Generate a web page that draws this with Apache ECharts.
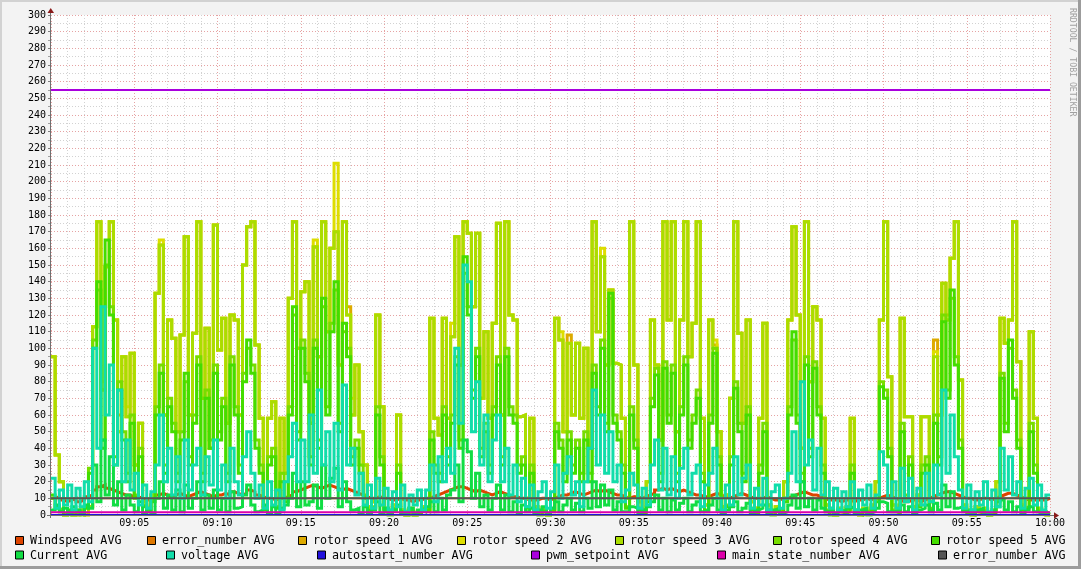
<!DOCTYPE html>
<html><head><meta charset="utf-8">
<script src="https://cdn.jsdelivr.net/npm/echarts@6/dist/echarts.min.js"></script>
<style>html,body{margin:0;padding:0;background:#f3f3f3}#c{width:1081px;height:569px}</style>
</head><body><div id="c"></div>
<script>
// ---- data (15 s samples from 09:00 to 10:00) ----
const tickLabels = ['09:05','09:10','09:15','09:20','09:25','09:30','09:35','09:40','09:45','09:50','09:55','10:00'];
const sampleMinutes = 0.25;
const spanMinutes = 60;

const windspeed = [
10,11,9,8,9,10,8,9,11,12, 15,17,18,16,15,14,13,12,12,11, 11,10,9,9,10,12,13,12,11,12,
13,12,11,12,13,14,13,12,11,12, 12,13,12,14,13,12,13,15,14,12, 11,10,10,9,10,10,11,12,14,15,
16,17,18,17,16,17,18,17,16,15, 16,15,14,13,12,11,10,10,11,10, 10,9,9,10,9,9,8,9,9,10,
10,11,12,13,14,15,16,17,17,16, 15,14,15,14,13,12,13,14,13,12, 11,11,10,10,9,9,9,10,10,9,
10,11,12,12,13,14,13,12,13,14, 15,14,15,14,13,12,12,11,10,11, 11,10,11,12,13,15,16,15,16,15,
14,15,14,13,12,12,11,11,12,13, 12,11,10,11,12,13,12,11,10,10, 10,11,10,9,9,10,10,11,12,13,
14,13,12,12,11,10,9,9,9,8, 9,9,8,9,9,10,9,10,10,11, 12,11,10,9,8,8,9,9,8,9,
10,11,12,13,14,14,13,12,11,10, 10,9,9,10,10,9,10,11,12,13, 13,12,11,10,9,9,9,9,9,10];

const errorNumberA = [10];

const rotorSpeed1 = [
95,36,20,0,2,0,0,3,0,5, 113,176,75,149,176,117,60,95,59,97, 30,55,8,3,12,133,162,60,117,106,
50,108,167,60,109,176,70,112,40,174, 99,118,55,120,117,60,150,173,176,102, 58,5,58,68,10,58,25,130,176,100,
134,140,55,161,95,176,110,160,170,90, 176,125,60,90,50,30,5,8,120,65, 4,2,6,60,3,0,4,0,2,5,
3,118,58,48,118,58,107,167,90,176, 169,125,169,70,110,58,115,175,60,176, 120,117,59,60,10,58,5,2,4,0,
3,118,105,50,108,60,103,58,100,40, 176,110,155,90,135,91,90,58,10,176, 90,8,3,20,117,90,45,176,117,176,
50,117,176,95,115,176,58,6,117,102, 50,5,12,70,176,109,55,117,8,4, 58,115,6,2,5,3,20,117,173,120,
40,176,80,125,117,58,6,3,0,4, 2,5,58,3,0,4,2,6,20,117, 176,83,6,3,118,59,59,5,12,59,
59,8,105,60,139,120,154,176,81,6, 3,0,5,2,4,0,3,20,118,103, 117,176,92,6,10,110,58,4,2,0];

const rotorSpeed2 = [
95,36,20,0,2,0,0,3,0,5, 113,176,80,149,176,117,50,95,65,97, 30,55,8,3,12,133,165,60,117,106,
50,108,167,60,109,176,70,112,40,174, 99,118,55,120,117,60,150,173,176,102, 58,5,58,68,10,58,25,130,176,100,
134,140,55,165,95,176,110,160,211,90, 176,120,70,90,50,30,5,8,120,65, 4,2,6,60,3,0,4,0,2,5,
3,118,58,48,118,58,115,167,90,176, 169,125,169,70,110,58,115,175,60,176, 120,117,59,60,10,58,5,2,4,0,
3,118,110,50,103,60,103,58,100,40, 176,110,160,90,135,91,90,58,10,176, 90,8,3,20,117,90,45,176,117,176,
50,117,176,95,115,176,58,6,117,105, 50,5,12,70,176,109,55,117,8,4, 58,115,6,2,5,3,20,117,173,120,
40,176,80,125,117,58,6,3,0,4, 2,5,58,3,0,4,2,6,20,117, 176,83,6,3,118,59,59,5,12,59,
59,8,98,60,139,117,154,176,81,6, 3,0,5,2,4,0,3,20,118,103, 117,176,92,6,10,110,58,4,2,0];

const rotorSpeed3 = [
95,36,20,0,2,0,0,3,0,5, 113,176,75,149,176,117,50,95,59,97, 30,55,8,3,12,133,162,60,117,106,
50,108,167,60,109,176,70,112,40,174, 99,118,55,120,117,60,150,173,176,102, 58,5,58,68,10,58,25,130,176,100,
134,140,55,161,95,176,110,160,170,90, 176,120,60,90,50,30,5,8,120,65, 4,2,6,60,3,0,4,0,2,5,
3,118,58,48,118,58,107,167,90,176, 169,125,169,70,110,58,115,175,60,176, 120,117,59,60,10,58,5,2,4,0,
3,118,105,50,103,60,103,58,100,40, 176,110,155,90,135,91,90,58,10,176, 90,8,3,20,117,90,45,176,117,176,
50,117,176,95,115,176,58,6,117,100, 50,5,12,70,176,109,55,117,8,4, 58,115,6,2,5,3,20,117,173,120,
40,176,80,125,117,58,6,3,0,4, 2,5,58,3,0,4,2,6,20,117, 176,83,6,3,118,59,59,5,12,59,
59,8,95,60,139,117,154,176,81,6, 3,0,5,2,4,0,3,20,118,103, 117,176,92,6,10,110,58,4,2,0];

const rotorSpeed4 = [
10,4,3,0,2,0,1,0,5,28, 105,135,45,150,125,35,80,50,25,60, 12,40,6,2,10,65,90,30,70,55,
25,50,80,35,60,95,25,75,45,90, 50,70,25,95,65,30,85,100,90,45, 30,4,35,40,5,25,10,65,120,50,
105,85,35,105,45,125,65,115,135,55, 110,100,35,45,30,12,3,5,65,35, 3,0,4,30,2,0,3,0,2,4,
3,50,30,25,65,35,60,95,45,145, 125,75,100,40,55,30,65,95,35,100, 65,60,30,35,5,30,3,0,3,0,
3,55,45,25,50,30,45,25,50,25, 90,65,105,55,130,60,50,30,5,65, 45,4,2,10,70,88,25,92,60,90,
25,65,95,45,60,75,25,3,60,100, 35,3,6,35,80,55,25,65,4,2, 30,55,3,0,3,2,10,65,105,60,
25,95,40,92,65,30,3,0,0,3, 2,3,30,2,0,3,0,4,10,80, 75,40,3,2,55,12,35,3,6,30,
35,4,60,35,120,75,130,95,45,4, 2,0,3,2,3,0,2,10,85,55, 100,75,45,4,5,55,30,3,2,0];

const rotorSpeed5 = [
12,5,2,0,3,0,2,0,4,25, 100,140,40,165,120,30,75,45,20,55, 10,35,5,2,8,60,85,25,65,50,
20,45,85,30,55,90,20,70,40,85, 45,65,20,90,60,25,80,105,85,40, 25,3,30,35,4,20,8,60,125,45,
100,80,30,100,40,130,60,110,140,50, 115,95,30,40,25,10,3,4,60,30, 2,0,3,25,2,0,2,0,1,3,
2,45,25,20,60,30,55,90,40,155, 120,70,95,35,50,25,60,90,30,95, 60,55,25,30,4,25,2,0,2,0,
2,50,40,20,45,25,40,20,45,20, 85,60,100,50,133,55,45,25,4,60, 40,3,1,8,65,84,20,88,55,85,
20,60,90,40,55,70,20,2,55,97, 30,2,5,30,76,50,20,60,3,1, 25,50,2,0,2,1,8,60,110,55,
20,90,35,88,60,25,2,0,0,2, 1,2,25,1,0,2,0,3,8,77, 70,35,2,1,50,10,30,2,5,25,
30,3,55,30,116,70,135,90,40,3, 1,0,2,1,2,0,1,8,82,50, 105,70,40,3,4,50,25,2,1,0];

const current = [
3,6,2,4,1,5,3,1,6,4, 30,8,45,12,35,6,20,3,12,6, 2,8,1,4,1,10,20,4,12,3,
15,2,18,4,10,20,3,12,4,15, 3,10,2,14,4,5,12,18,6,2, 3,6,1,5,1,4,6,10,25,5,
20,6,8,18,4,30,10,22,28,5, 20,8,3,4,1,5,1,3,8,1, 4,1,3,6,1,2,4,1,3,2,
5,8,2,10,3,12,15,30,8,45, 38,10,25,5,12,3,10,18,3,12, 2,8,1,6,2,4,1,3,5,1,
4,8,2,6,10,3,7,2,10,4, 20,5,18,6,15,3,8,2,2,5, 4,1,3,5,8,12,3,10,2,9,
3,7,10,2,6,8,2,3,6,10, 3,1,3,5,8,2,4,7,1,3, 4,6,1,3,4,1,2,6,12,4,
20,5,10,3,9,4,2,3,1,3, 2,4,5,1,3,4,1,2,4,8, 7,2,2,3,6,2,5,1,3,4,
6,2,7,3,18,5,14,4,5,2, 3,1,3,4,1,2,3,5,9,3, 8,2,5,1,3,5,2,1,2,1];

const voltage = [
22,4,15,6,18,3,16,5,20,8, 100,40,125,60,90,30,75,20,45,15, 25,6,18,4,14,30,60,20,40,12,
35,10,45,15,30,40,12,35,18,45, 15,30,10,40,20,12,35,50,25,10, 18,4,20,6,15,3,20,35,55,20,
45,20,60,25,75,30,50,20,55,15, 78,30,40,12,25,6,18,4,22,6, 16,3,14,5,18,2,12,6,15,3,
15,30,8,35,20,40,25,100,55,150, 140,50,80,30,60,20,45,60,20,40, 12,30,8,22,5,18,3,14,20,4,
14,30,10,25,35,12,20,5,20,40, 75,30,60,25,50,20,30,8,15,25, 18,4,16,6,30,45,15,40,12,35,
10,28,40,12,25,30,5,18,25,40, 10,3,18,6,35,12,22,30,4,16, 6,22,3,14,18,4,10,25,50,20,
80,30,45,15,40,12,20,4,16,3, 14,5,20,3,15,6,18,4,12,38, 30,10,20,4,28,8,22,3,16,6,
25,8,30,12,75,25,60,35,15,4, 18,3,14,6,20,2,15,5,40,15, 35,12,20,4,16,22,6,18,3,12];

const autostartNumber = [0];
const pwmSetpoint = [255];
const mainStateNumber = [1.7];
const errorNumberB = [10];

const seriesNames = ['Windspeed AVG','error_number AVG','rotor speed 1 AVG','rotor speed 2 AVG','rotor speed 3 AVG',
  'rotor speed 4 AVG','rotor speed 5 AVG','Current AVG','voltage AVG','autostart_number AVG','pwm_setpoint AVG',
  'main_state_number AVG','error_number AVG'];
const seriesValues = [windspeed, errorNumberA, rotorSpeed1, rotorSpeed2, rotorSpeed3, rotorSpeed4, rotorSpeed5,
  current, voltage, autostartNumber, pwmSetpoint, mainStateNumber, errorNumberB];
const seriesColors = ['#DD4400','#DD7700','#DDAA00','#DDDD00','#AADD00','#77DD00','#44DD00',
  '#11DD44','#11DDAA','#2211DD','#AA00DD','#DD00AA','#555555'];

// ---- chart ----
function toPoints(arr) {
  if (arr.length === 1) return [[0, arr[0]], [spanMinutes, arr[0]]];
  const pts = arr.map((v, i) => [i * sampleMinutes, v]);
  pts.push([arr.length * sampleMinutes, arr[arr.length - 1]]);
  return pts;
}

const G = { left: 51, top: 15, width: 999, height: 500 };
const mono = 'DejaVu Sans Mono';

const series = seriesNames.map((n, k) => ({
  name: n, type: 'line', step: 'end', symbol: 'none', showSymbol: false, silent: true,
  data: toPoints(seriesValues[k]),
  lineStyle: { width: seriesValues[k].length === 1 ? 2 : 3, color: seriesColors[k], join: 'miter', cap: 'butt' },
  itemStyle: { color: seriesColors[k] },
  emphasis: { disabled: true }, animation: false, clip: true
}));

// legend layout (two justified rows)
const legendRows = [
  { y: 541, xs: [15, 147, 298, 457, 615, 773, 931], idx: [0,1,2,3,4,5,6] },
  { y: 555.5, xs: [15, 166, 317, 531, 717, 938], idx: [7,8,9,10,11,12] }
];
const graphics = [];
graphics.push({ type: 'rect', shape: { x: 0, y: 0, width: 1081, height: 2 }, style: { fill: '#d2d2d2' }, silent: true });
graphics.push({ type: 'rect', shape: { x: 0, y: 0, width: 2, height: 569 }, style: { fill: '#d2d2d2' }, silent: true });
graphics.push({ type: 'rect', shape: { x: 0, y: 566, width: 1081, height: 3 }, style: { fill: '#9c9c9c' }, silent: true });
graphics.push({ type: 'rect', shape: { x: 1078, y: 0, width: 3, height: 569 }, style: { fill: '#9c9c9c' }, silent: true });
legendRows.forEach(r => {
  r.idx.forEach((k, j) => {
    const x = r.xs[j];
    graphics.push({ type: 'rect', shape: { x: x + 0.5, y: r.y - 4.5, width: 8, height: 8 },
      style: { fill: seriesColors[k], stroke: '#000', lineWidth: 1 }, silent: true });
    graphics.push({ type: 'text', x: x + 15, y: r.y, silent: true,
      style: { text: seriesNames[k], font: '11.7px "' + mono + '"', fill: '#000', textVerticalAlign: 'middle', textAlign: 'left' } });
  });
});
const axisColor = '#707070';
graphics.push({ type: 'line', z: 100, shape: { x1: 50.5, y1: 518, x2: 50.5, y2: 10 }, style: { stroke: axisColor, lineWidth: 1 }, silent: true });
graphics.push({ type: 'line', z: 100, shape: { x1: 47, y1: 515.5, x2: 1056, y2: 515.5 }, style: { stroke: axisColor, lineWidth: 1 }, silent: true });
graphics.push({ type: 'polygon', z: 100, shape: { points: [[47.5, 13], [54, 13], [50.75, 8]] }, style: { fill: '#8a1a1a' }, silent: true });
graphics.push({ type: 'polygon', z: 100, shape: { points: [[1054, 512.3], [1054, 518.7], [1059, 515.5]] }, style: { fill: '#8a1a1a' }, silent: true });
graphics.push({ type: 'text', x: 1072, y: 8, rotation: -Math.PI / 2, silent: true,
  style: { text: 'RRDTOOL / TOBI OETIKER', font: '8.2px "' + mono + '"', fill: '#a0a0a0', textAlign: 'left', textVerticalAlign: 'middle' } });

const majorGrid = { show: true, lineStyle: { color: '#e6a3a3', width: 1, type: [1, 2] } };
const minorGrid = { show: true, lineStyle: { color: '#d2d2d2', width: 1, type: [1, 2] } };

const option = {
  backgroundColor: '#f3f3f3',
  animation: false,
  grid: { left: G.left, top: G.top, width: G.width, height: G.height, containLabel: false, outerBoundsMode: 'none',
    show: true, backgroundColor: '#ffffff', borderWidth: 0 },
  xAxis: {
    type: 'value', min: 0, max: spanMinutes, interval: 5,
    axisLine: { show: false },
    axisTick: { show: false },
    minorTick: { show: false, splitNumber: 5 },
    splitLine: majorGrid, minorSplitLine: minorGrid,
    axisLabel: { margin: 3, color: '#000', fontFamily: mono, fontSize: 10,
      formatter: v => (v === 0 ? '' : tickLabels[Math.round(v / 5) - 1]) }
  },
  yAxis: {
    type: 'value', min: 0, max: 300, interval: 10,
    axisLine: { show: false },
    axisTick: { show: true, length: 3, lineStyle: { color: '#808080' } },
    minorTick: { show: true, splitNumber: 2, length: 3, lineStyle: { color: '#a0a0a0' } },
    splitLine: majorGrid, minorSplitLine: minorGrid,
    axisLabel: { margin: 5, color: '#000', fontFamily: mono, fontSize: 10 }
  },
  graphic: graphics,
  series: series
};

const chart = echarts.init(document.getElementById('c'), null, { renderer: 'canvas' });
chart.setOption(option);
</script></body></html>
